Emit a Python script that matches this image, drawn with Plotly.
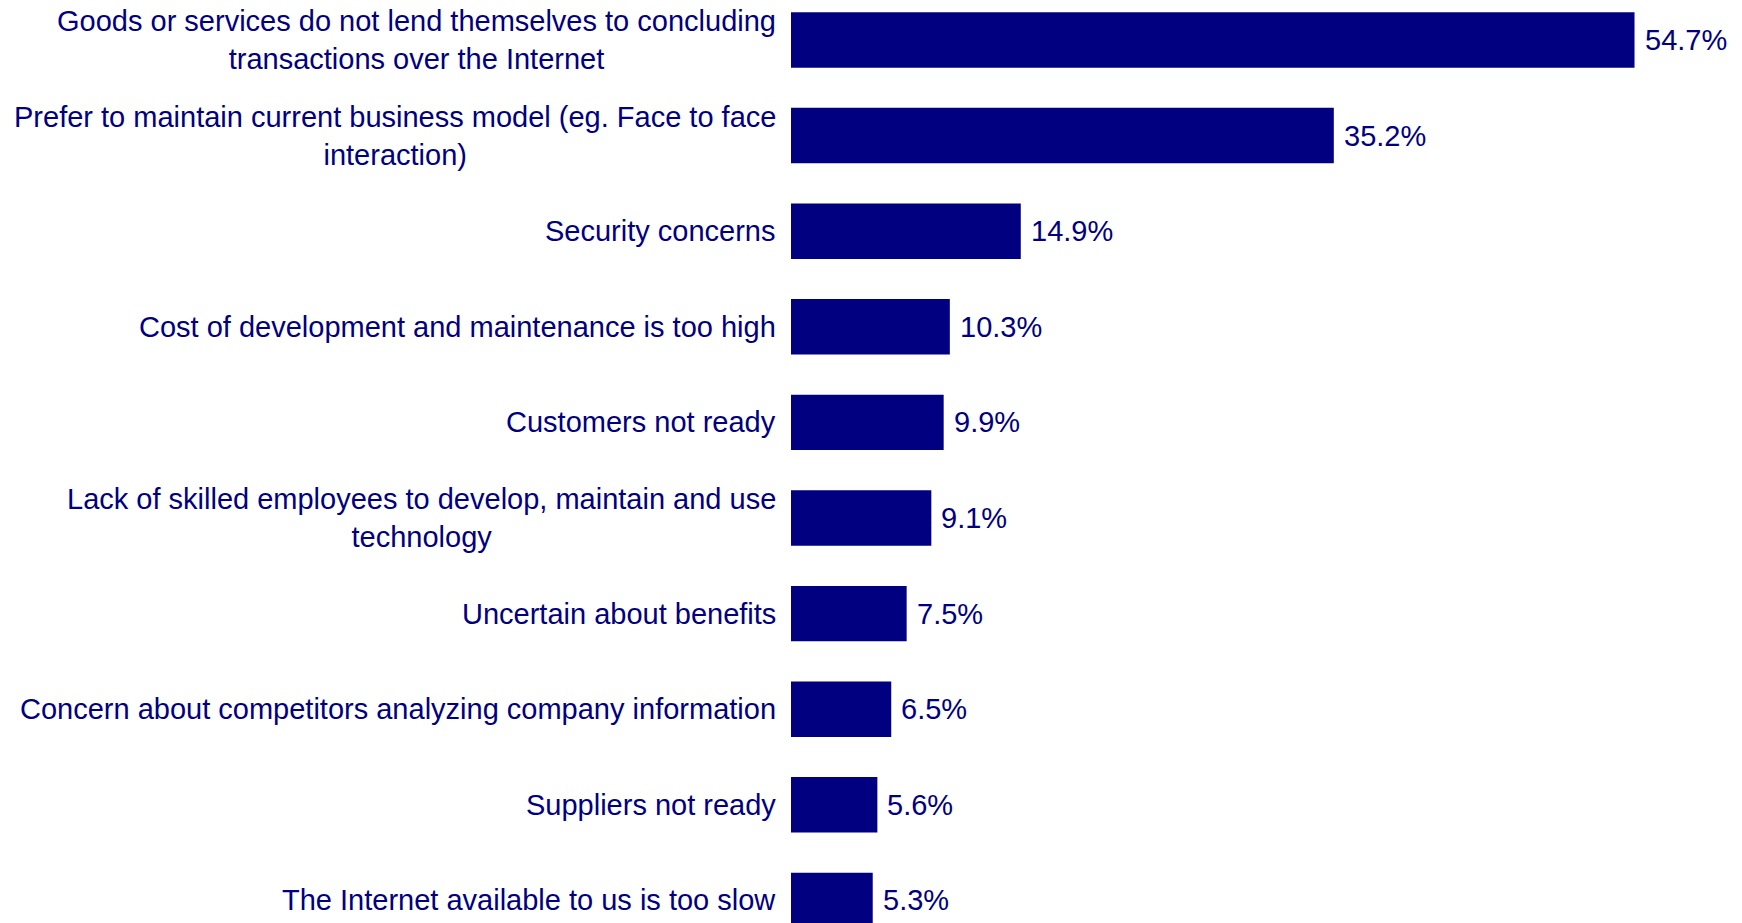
import plotly.graph_objects as go

categories = [
    "Goods or services do not lend themselves to concluding<br>transactions over the Internet",
    "Prefer to maintain current business model (eg. Face to face<br>interaction)",
    "Security concerns",
    "Cost of development and maintenance is too high",
    "Customers not ready",
    "Lack of skilled employees to develop, maintain and use<br>technology",
    "Uncertain about benefits",
    "Concern about competitors analyzing company information",
    "Suppliers not ready",
    "The Internet available to us is too slow",
]
values = [54.7, 35.2, 14.9, 10.3, 9.9, 9.1, 7.5, 6.5, 5.6, 5.3]

NAVY = "#000080"
FONT = "Liberation Sans, Arial, sans-serif"
FONT_SIZE = 29

fig = go.Figure(
    go.Bar(
        x=values,
        y=list(range(len(categories))),
        orientation="h",
        marker=dict(color=NAVY, line=dict(width=0)),
        width=0.58,
        hoverinfo="skip",
    )
)

annotations = []
for i, (cat, v) in enumerate(zip(categories, values)):
    annotations.append(dict(
        x=0, y=i, xref="x", yref="y", text=cat, showarrow=False,
        xanchor="right", yanchor="middle", align="center", xshift=-13,
        font=dict(family=FONT, size=FONT_SIZE, color=NAVY),
    ))
    annotations.append(dict(
        x=v, y=i, xref="x", yref="y", text=f"{v:.1f}%", showarrow=False,
        xanchor="left", yanchor="middle", xshift=8,
        font=dict(family=FONT, size=FONT_SIZE, color=NAVY),
    ))

fig.update_layout(
    width=1742, height=923,
    margin=dict(l=791, r=0, t=0, b=0),
    paper_bgcolor="white", plot_bgcolor="white",
    showlegend=False,
    annotations=annotations,
    xaxis=dict(range=[0, 61.67], visible=False, fixedrange=True),
    yaxis=dict(range=[9.236, -0.418], visible=False, fixedrange=True),
)

fig.write_html("out.html")
